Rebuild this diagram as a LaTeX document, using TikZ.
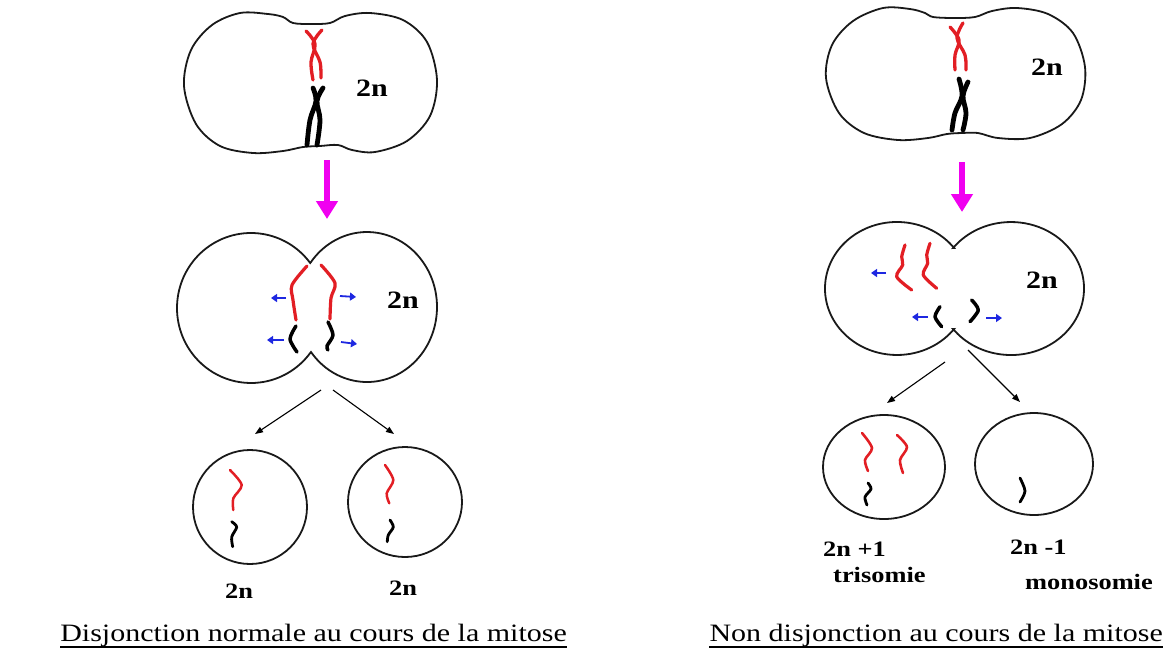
\documentclass[tikz,border=0pt]{standalone}
\usepackage{fontspec}
\setmainfont{Liberation Serif}[FakeStretch=1.2]
\usetikzlibrary{arrows.meta,calc}
\definecolor{chrred}{RGB}{226,30,36}
\definecolor{spindle}{RGB}{30,40,225}
\definecolor{pinkarrow}{RGB}{240,0,240}
\begin{document}
\begin{tikzpicture}[x=1pt,y=-1pt,
  cell/.style={draw=black!90, line width=1.8pt},
  redchr/.style={draw=chrred, line width=2.8pt, line cap=round, line join=round},
  blackchr/.style={draw=black, line width=3.2pt, line cap=round, line join=round},
  pull/.style={draw=spindle, line width=1.8pt, -{Triangle[length=6pt,width=8pt]}},
  split/.style={draw=black, line width=1.1pt, -{Triangle[length=8pt,width=6pt]}},
  stage/.style={draw=pinkarrow, line width=6.5pt, -{Triangle[length=18pt,width=21pt]}},
  ploidy/.style={inner sep=0pt, font=\bfseries\fontsize{25}{25}\selectfont},
  smallbold/.style={inner sep=0pt, font=\bfseries\fontsize{22}{22}\selectfont},
  caption/.style={inner sep=0pt, font=\fontsize{25}{30}\selectfont},
  underline/.style={draw=black, line width=1.3pt}
]
\useasboundingbox (0,0) rectangle (1170,649);

% ---------------- left column: normal disjunction ----------------
% metaphase cell
\draw[cell] plot[smooth cycle, tension=0.55] coordinates {
  (293,23) (311,24) (330,23) (345,16) (370,13) (403,20) (427,42) (437,80)
  (430,116) (407,141) (375,152) (352,150) (338,145) (320,146) (303,147)
  (283,151) (253,153) (220,146) (196,124) (184,86) (191,50) (212,25)
  (240,13) (268,14) (283,17)};
\draw[redchr, line width=3.3pt] plot[smooth, tension=0.6] coordinates {(306,31) (315,44) (311,62) (313,80)};
\draw[redchr, line width=3.3pt] plot[smooth, tension=0.6] coordinates {(322,30) (313,44) (320,62) (321,78)};
\draw[blackchr, line width=4.8pt] plot[smooth, tension=0.6] coordinates {(313,88) (316,101) (310,120) (307,145)};
\draw[blackchr, line width=4.8pt] plot[smooth, tension=0.6] coordinates {(323,88) (317,101) (320,120) (317,145)};
\node[ploidy] (nA) at (372,88) {2n};

\coordinate (pA1) at (327,160);
\coordinate (pA2) at (327,219);
\draw[stage] (pA1) -- (pA2);

% anaphase cell
\draw[cell] (310.2,263) arc[start angle=-36.87, end angle=-323.13, x radius=74, y radius=75]
  -- (311,352) arc[start angle=143.13, end angle=-143.13, x radius=70, y radius=75] -- cycle;
\draw[redchr, line width=3.2pt] plot[smooth, tension=0.5] coordinates {(307,266) (292,285) (293,300) (296,320)};
\draw[redchr, line width=3.2pt] plot[smooth, tension=0.5] coordinates {(321,265) (335,283) (331,298) (330,319)};
\draw[blackchr, line width=3.5pt] plot[smooth, tension=0.5] coordinates {(296,326) (290,339) (297,352)};
\draw[blackchr, line width=3.5pt] plot[smooth, tension=0.5] coordinates {(328,322) (333,335) (327,346) (328,350)};
\coordinate (bA1) at (286,298); \coordinate (bA2) at (271,298);
\coordinate (bA3) at (340,296); \coordinate (bA4) at (356,297);
\coordinate (bA5) at (284,340); \coordinate (bA6) at (267,340);
\coordinate (bA7) at (341,342); \coordinate (bA8) at (357,344);
\draw[pull] (bA1) -- (bA2);
\draw[pull] (bA3) -- (bA4);
\draw[pull] (bA5) -- (bA6);
\draw[pull] (bA7) -- (bA8);
\node[ploidy] (nB) at (403,300) {2n};

\coordinate (sA) at (321,390);
\coordinate (sB) at (333,390);
\coordinate (dA) at (255,434);
\coordinate (dB) at (394,434);
\draw[split] (sA) -- (dA);
\draw[split] (sB) -- (dB);

% daughter cells
\draw[cell] (250,507) ellipse[x radius=57, y radius=57];
\draw[cell] (405,502) ellipse[x radius=57, y radius=55];
\draw[redchr, line width=2.5pt] plot[smooth, tension=0.5] coordinates {(230,470) (241.7,485) (233.3,498.3) (233.3,510)};
\draw[blackchr, line width=2.8pt] plot[smooth, tension=0.5] coordinates {(231.7,521.7) (236.7,527) (231.7,537) (232.7,546.7)};
\draw[redchr, line width=2.5pt] plot[smooth, tension=0.5] coordinates {(385,465) (393.3,480) (386.7,493.3) (389.3,503.3)};
\draw[blackchr, line width=2.8pt] plot[smooth, tension=0.5] coordinates {(390,520) (393.3,527) (388.3,535) (387.3,541.7)};
\node[smallbold] (nC) at (239,591) {2n};
\node[smallbold] (nD) at (403,588) {2n};

\node[caption, anchor=base east] (capL) at (567,641) {Disjonction normale au cours de la mitose};
\draw[underline] ($(capL.base west)+(0,6)$) -- ($(capL.base east)+(0,6)$);

% ---------------- right column: non-disjunction ----------------
\draw[cell] plot[smooth cycle, tension=0.55] coordinates {
  (933,17) (954,18) (975,17) (992,11) (1017,8) (1048,14) (1073,33) (1085,67)
  (1081,100) (1062,124) (1030,138) (998,138) (978,133) (962,133) (947,134)
  (928,138) (898,140) (864,133) (839,113) (826,78) (832,45) (853,21)
  (883,8) (910,9) (925,13)};
\draw[redchr, line width=3.3pt] plot[smooth, tension=0.6] coordinates {(950,27) (959,40) (955,55) (955,70)};
\draw[redchr, line width=3.3pt] plot[smooth, tension=0.6] coordinates {(963,23) (957,38) (965,55) (966,70)};
\draw[blackchr, line width=4.8pt] plot[smooth, tension=0.6] coordinates {(959,79) (962,96) (955,113) (952,130)};
\draw[blackchr, line width=4.8pt] plot[smooth, tension=0.6] coordinates {(968,82) (963,96) (966,113) (963,130)};
\node[ploidy] (nE) at (1047,67) {2n};

\coordinate (pB1) at (962,162);
\coordinate (pB2) at (962,212);
\draw[stage] (pB1) -- (pB2);

\draw[cell] (954.1,248) arc[start angle=-37.5, end angle=-322.5, x radius=72, y radius=66.5]
  -- (953.1,329) arc[start angle=142.5, end angle=-142.5, x radius=73, y radius=66.5] -- cycle;
\draw[redchr, line width=3.2pt] plot[smooth, tension=0.5] coordinates {(905,245) (901.7,256.7) (902.7,265) (896.7,276.7) (911.7,290)};
\draw[redchr, line width=3.2pt] plot[smooth, tension=0.5] coordinates {(930,243.3) (926.7,255) (927.7,263.3) (923.3,275) (936.7,288.3)};
\draw[blackchr, line width=3.5pt] plot[smooth, tension=0.5] coordinates {(940,306.7) (935,316.7) (941.7,326.7)};
\draw[blackchr, line width=3.5pt] plot[smooth, tension=0.5] coordinates {(971.7,300) (978.3,310) (970,321.7)};
\coordinate (bB1) at (886,273); \coordinate (bB2) at (871,273);
\coordinate (bB3) at (928,317); \coordinate (bB4) at (912,317);
\coordinate (bB5) at (986,318); \coordinate (bB6) at (1002,318);
\draw[pull] (bB1) -- (bB2);
\draw[pull] (bB3) -- (bB4);
\draw[pull] (bB5) -- (bB6);
\node[ploidy] (nF) at (1042,280) {2n};

\coordinate (sC) at (945,362);
\coordinate (sD) at (968,350);
\coordinate (dC) at (887,403);
\coordinate (dD) at (1020,402);
\draw[split] (sC) -- (dC);
\draw[split] (sD) -- (dD);

\draw[cell] (884,467) ellipse[x radius=61, y radius=52];
\draw[cell] (1034,464) ellipse[x radius=59, y radius=51];
\draw[redchr, line width=2.6pt] plot[smooth, tension=0.5] coordinates {(862,433) (872,448) (865,460) (868,471)};
\draw[redchr, line width=2.6pt] plot[smooth, tension=0.5] coordinates {(897,435) (907,447) (900,460) (903,473)};
\draw[blackchr, line width=2.8pt] plot[smooth, tension=0.5] coordinates {(868,483) (871,489) (865,497) (867,505)};
\draw[blackchr, line width=2.8pt] plot[smooth, tension=0.5] coordinates {(1020,478) (1025,491) (1020,502)};

\node[smallbold, anchor=west] (nG) at (823,549) {2n +1};
\node[smallbold, anchor=west] (tG) at (833,575) {trisomie};
\node[smallbold, anchor=west] (nH) at (1010,547) {2n -1};
\node[smallbold, anchor=west] (tH) at (1025,582) {monosomie};

\node[caption, anchor=base east] (capR) at (1163,641) {Non disjonction au cours de la mitose};
\draw[underline] ($(capR.base west)+(0,6)$) -- ($(capR.base east)+(0,6)$);
\end{tikzpicture}
\end{document}
